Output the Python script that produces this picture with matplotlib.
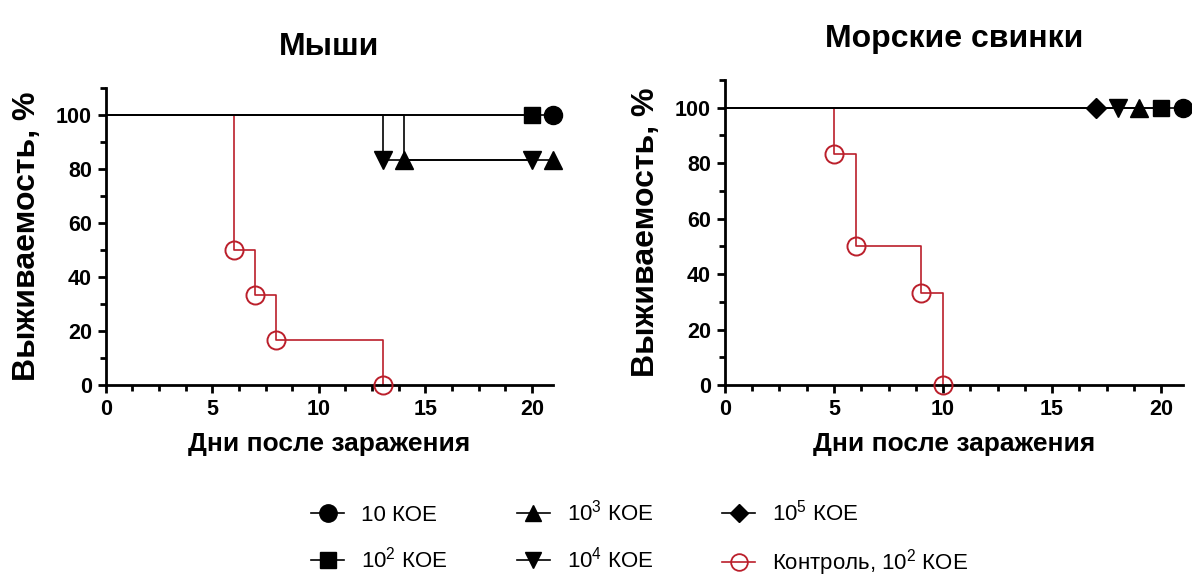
import matplotlib
matplotlib.use("Agg")
import matplotlib.pyplot as plt
from matplotlib import font_manager
from matplotlib.lines import Line2D
from matplotlib.ticker import MultipleLocator

plt.rcParams['font.family'] = ['Liberation Sans', 'DejaVu Sans']
plt.rcParams['mathtext.fontset'] = 'custom'
plt.rcParams['mathtext.rm'] = 'Liberation Sans'
plt.rcParams['mathtext.it'] = 'Liberation Sans:italic'
plt.rcParams['mathtext.bf'] = 'Liberation Sans:bold'

RED = '#BB1F2B'

# --- mice: Kaplan-Meier steps (days, survival %) ---
mice_10_t = [0, 21]
mice_10_s = [100, 100]
mice_100_t = [0, 20]
mice_100_s = [100, 100]
mice_1e3_t = [0, 14, 21]
mice_1e3_s = [100, 83.3, 83.3]
mice_1e4_t = [0, 13, 20]
mice_1e4_s = [100, 83.3, 83.3]
mice_ctrl_t = [0, 6, 7, 8, 13]
mice_ctrl_s = [100, 50, 33.3, 16.7, 0]

# --- guinea pigs ---
gp_10_t = [0, 21]
gp_10_s = [100, 100]
gp_100_t = [0, 20]
gp_100_s = [100, 100]
gp_1e3_t = [0, 19]
gp_1e3_s = [100, 100]
gp_1e4_t = [0, 18]
gp_1e4_s = [100, 100]
gp_1e5_t = [0, 17]
gp_1e5_s = [100, 100]
gp_ctrl_t = [0, 5, 6, 9, 10]
gp_ctrl_s = [100, 83.3, 50, 33.3, 0]

labels = ['10 КОЕ', r'$\mathregular{10^{2}}$ КОЕ', r'$\mathregular{10^{3}}$ КОЕ',
          r'$\mathregular{10^{4}}$ КОЕ', r'$\mathregular{10^{5}}$ КОЕ',
          r'Контроль, $\mathregular{10^{2}}$ КОЕ']

MS = {'o': 13, 's': 11.5, '^': 12.5, 'v': 12.5, 'D': 10}

try:
    font_manager.findfont(font_manager.FontProperties(family='Liberation Sans Narrow', weight='bold'),
                          fallback_to_default=False)
    ylab_font = dict(family='Liberation Sans Narrow', size=28.5)
except ValueError:
    ylab_font = dict(family='Liberation Sans', size=23)


def km(ax, t, s, color, marker, ms, mfc=None, z=3, lw=1.2, mew=1.0):
    ax.step(t, s, where='post', color=color, lw=lw, zorder=z, clip_on=False)
    ax.plot(t[1:], s[1:], ls='', marker=marker, ms=ms, color=color,
            mfc=mfc if mfc else color, mew=mew, zorder=z + 1, clip_on=False)


def style(ax, title):
    ax.set_xlim(0, 21)
    ax.set_ylim(0, 110)
    ax.spines['top'].set_visible(False)
    ax.spines['right'].set_visible(False)
    for sp in ('left', 'bottom'):
        ax.spines[sp].set_linewidth(2)
    ax.xaxis.set_major_locator(MultipleLocator(5))
    ax.xaxis.set_minor_locator(MultipleLocator(1.25))
    ax.yaxis.set_major_locator(MultipleLocator(20))
    ax.yaxis.set_minor_locator(MultipleLocator(10))
    ax.tick_params(which='major', length=6, width=2, labelsize=15.5, pad=4)
    ax.tick_params(which='minor', length=4, width=2)
    for lab in ax.get_xticklabels() + ax.get_yticklabels():
        lab.set_fontweight('bold')
    ax.set_xlabel('Дни после заражения', fontsize=19, fontweight='bold', labelpad=9)
    ax.set_ylabel('Выживаемость, %', fontweight='bold', labelpad=10, **ylab_font)
    ax.set_title(title, fontsize=23, fontweight='bold', pad=24)


fig = plt.figure(figsize=(11.92, 5.76), dpi=100)
ax1 = fig.add_axes([0.0887, 0.3316, 0.3753, 0.5156])
ax2 = fig.add_axes([0.6082, 0.3316, 0.3842, 0.5295])

km(ax1, mice_ctrl_t, mice_ctrl_s, RED, 'o', 13, mfc='none', z=2, lw=1.2, mew=1.4)
km(ax1, mice_100_t, mice_100_s, 'black', 's', MS['s'])
km(ax1, mice_10_t, mice_10_s, 'black', 'o', MS['o'])
km(ax1, mice_1e4_t, mice_1e4_s, 'black', 'v', MS['v'])
km(ax1, mice_1e3_t, mice_1e3_s, 'black', '^', MS['^'])
style(ax1, 'Мыши')

km(ax2, gp_ctrl_t, gp_ctrl_s, RED, 'o', 13, mfc='none', z=2, lw=1.2, mew=1.4)
km(ax2, gp_1e5_t, gp_1e5_s, 'black', 'D', MS['D'])
km(ax2, gp_1e4_t, gp_1e4_s, 'black', 'v', MS['v'])
km(ax2, gp_1e3_t, gp_1e3_s, 'black', '^', MS['^'])
km(ax2, gp_100_t, gp_100_s, 'black', 's', MS['s'])
km(ax2, gp_10_t, gp_10_s, 'black', 'o', MS['o'])
style(ax2, 'Морские свинки')

handles = [
    Line2D([], [], color='black', lw=1.2, marker='o', ms=12.5, label=labels[0]),
    Line2D([], [], color='black', lw=1.2, marker='s', ms=11.5, label=labels[1]),
    Line2D([], [], color='black', lw=1.2, marker='^', ms=12, label=labels[2]),
    Line2D([], [], color='black', lw=1.2, marker='v', ms=12, label=labels[3]),
    Line2D([], [], color='black', lw=1.2, marker='D', ms=9.5, label=labels[4]),
    Line2D([], [], color=RED, lw=1.2, marker='o', ms=12, mfc='none', mew=1.3, label=labels[5]),
]
fig.legend(handles=handles, loc='upper left', bbox_to_anchor=(0.261, 0.132), ncol=3,
           frameon=False, fontsize=16, handlelength=1.5, handletextpad=0.75,
           columnspacing=3.1, labelspacing=0.95, borderpad=0, borderaxespad=0)

fig.savefig('out.png', dpi=100)
